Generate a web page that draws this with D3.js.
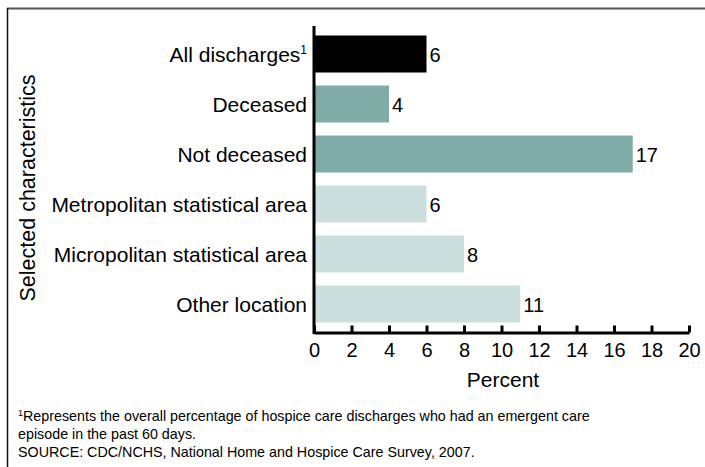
<!DOCTYPE html>
<html><head><meta charset="utf-8">
<script src="https://cdn.jsdelivr.net/npm/d3@7"></script>
<style>
html,body{margin:0;padding:0;background:#fff;}
svg{display:block;font-family:"Liberation Sans",Arial,sans-serif;}
</style></head>
<body><svg id="c" width="705" height="467"></svg>
<script>
const categories = ["All discharges", "Deceased", "Not deceased", "Metropolitan statistical area", "Micropolitan statistical area", "Other location"];
const superscripts = ["1", "", "", "", "", ""];
const values = [6, 4, 17, 6, 8, 11];
const groups = ["all", "status", "status", "location", "location", "location"];
const xTicks = [0, 2, 4, 6, 8, 10, 12, 14, 16, 18, 20];
const footnotes = [
  "Represents the overall percentage of hospice care discharges who had an emergent care",
  "episode in the past 60 days.",
  "SOURCE: CDC/NCHS, National Home and Hospice Care Survey, 2007."
];

const svg = d3.select("#c");
const colors = {all: "#000000", status: "#80aca8", location: "#cbdfde"};

// frame (top and left)
svg.append("line").attr("x1", 7).attr("x2", 705).attr("y1", 8.5).attr("y2", 8.5).attr("stroke", "#555").attr("stroke-width", 2);
svg.append("line").attr("x1", 7.5).attr("x2", 7.5).attr("y1", 8).attr("y2", 467).attr("stroke", "#111").attr("stroke-width", 1.5);

const x = d3.scaleLinear().domain([0, 20]).range([314, 689]);
const y = d3.scaleBand().domain(categories).range([29, 329]).paddingInner(0.26).paddingOuter(0.13);

// bars
svg.selectAll("rect.bar").data(categories).enter().append("rect")
  .attr("x", x(0)).attr("y", d => y(d))
  .attr("width", (d, i) => x(values[i]) - x(0))
  .attr("height", y.bandwidth())
  .attr("fill", (d, i) => colors[groups[i]]);

// value labels
svg.selectAll("text.val").data(categories).enter().append("text")
  .attr("x", (d, i) => x(values[i]) + 3)
  .attr("y", d => y(d) + y.bandwidth() / 2 + 7.5)
  .attr("font-size", 20).attr("fill", "#000")
  .text((d, i) => values[i]);

// category labels
categories.forEach((c, i) => {
  const t = svg.append("text")
    .attr("x", 307).attr("y", y(c) + y.bandwidth() / 2 + 7.5)
    .attr("text-anchor", "end").attr("font-size", 21).attr("fill", "#000");
  t.append("tspan").text(c);
  if (superscripts[i]) t.append("tspan").attr("font-size", 12).attr("dy", -8).attr("fill", "#000").text(superscripts[i]);
});

// x axis
const xAxis = d3.axisBottom(x).tickValues(xTicks).tickSize(-7).tickSizeOuter(0).tickPadding(10);
const gx = svg.append("g").attr("transform", "translate(0,332.5)").call(xAxis);
gx.select(".domain").attr("stroke", "#000").attr("stroke-width", 3);
gx.selectAll(".tick line").attr("stroke", "#000").attr("stroke-width", 3);
gx.selectAll(".tick text").attr("font-size", 20).attr("fill", "#000").attr("font-family", "Liberation Sans, Arial, sans-serif").attr("dy", "0.71em");

// y axis line
svg.append("line").attr("x1", x(0)).attr("x2", x(0)).attr("y1", 26).attr("y2", 334).attr("stroke", "#000").attr("stroke-width", 3);

// axis titles
svg.append("text").attr("x", 503).attr("y", 387).attr("text-anchor", "middle").attr("font-size", 21).text("Percent");
svg.append("text").attr("transform", "translate(35,188) rotate(-90)").attr("text-anchor", "middle").attr("font-size", 21.5).text("Selected characteristics");

// footnotes
const fy = [421, 439, 457];
footnotes.forEach((f, i) => {
  const t = svg.append("text").attr("x", 18).attr("y", fy[i]).attr("font-size", 14.3).attr("fill", "#000");
  if (i === 0) t.append("tspan").attr("font-size", 9).attr("dy", -5).text("1");
  t.append("tspan").attr("dy", i === 0 ? 5 : 0).text(f);
});
</script></body></html>
